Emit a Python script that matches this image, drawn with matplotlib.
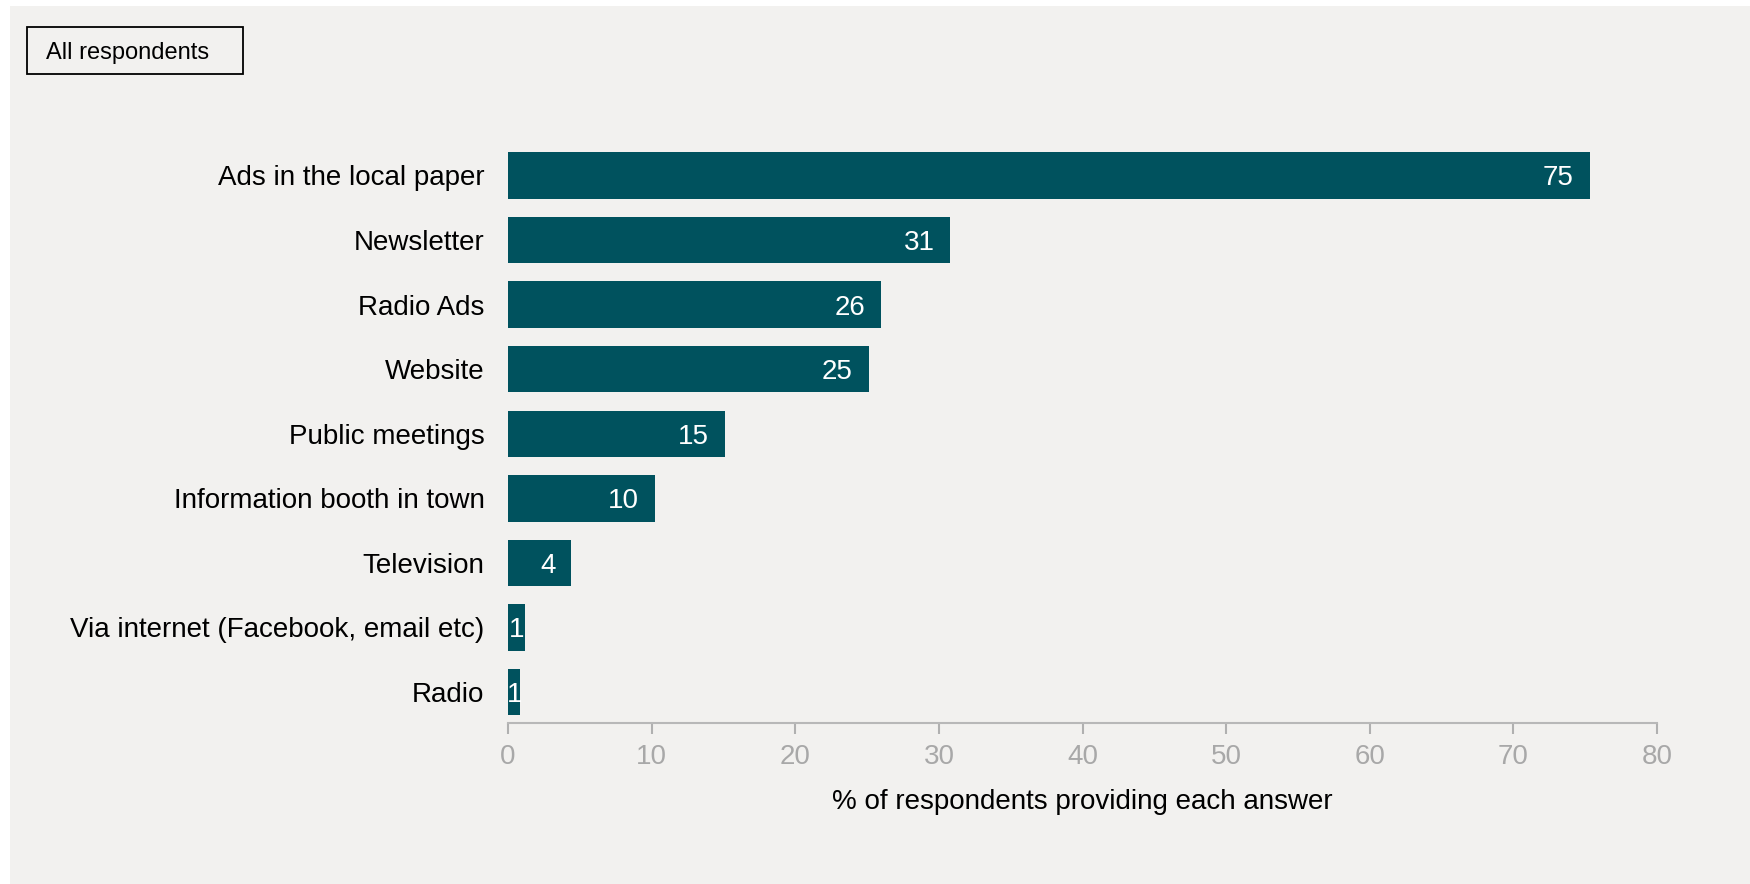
import matplotlib
matplotlib.use("Agg")
import matplotlib.pyplot as plt
from matplotlib.patches import Rectangle

# Survey answers, top to bottom
categories = ["Ads in the local paper", "Newsletter", "Radio Ads", "Website",
              "Public meetings", "Information booth in town", "Television",
              "Via internet (Facebook, email etc)", "Radio"]
values = [75.3, 30.8, 26.0, 25.1, 15.1, 10.2, 4.4, 1.2, 0.85]
labels = ["75", "31", "26", "25", "15", "10", "4", "1", "1"]
ticks = [0, 10, 20, 30, 40, 50, 60, 70, 80]

bar_color = "#00525e"
panel_color = "#f2f1ef"
fs = 20

plt.rcParams['font.family'] = ['Liberation Sans', 'DejaVu Sans']

W, H = 1750, 884
fig = plt.figure(figsize=(W / 100, H / 100), dpi=100)
fig.patch.set_facecolor("white")

# grey panel behind everything
fig.patches.append(Rectangle((10 / W, 0), 1 - 10 / W, 1 - 6 / H,
                             transform=fig.transFigure, facecolor=panel_color,
                             edgecolor="none", zorder=-10))

ax = fig.add_axes([0.2903, 0.1821, 0.6566, 0.6559])
ax.set_facecolor("none")

y = list(range(len(categories)))
ax.barh(y, values, height=0.72, color=bar_color)

for yi, v, lab in zip(y, values, labels):
    if v > 3:
        ax.text(v - 1.1, yi, lab, ha="right", va="center_baseline", color="white", fontsize=fs)
    else:
        ax.text(v / 2, yi, lab, ha="center", va="center_baseline", color="white", fontsize=fs)

ax.set_ylim(8.48, -0.5)
ax.set_xlim(0, 80)
ax.set_yticks(y)
ax.set_yticklabels(categories, fontsize=fs, va="center_baseline")
ax.tick_params(axis="y", length=0, pad=17)
ax.set_xticks(ticks)
ax.tick_params(axis="x", colors="#b0b0b0", labelcolor="#a8a8a8", labelsize=fs,
               length=8, width=1.5, direction="out", pad=7)

for s in ["top", "right", "left"]:
    ax.spines[s].set_visible(False)
ax.spines["bottom"].set_color("#b8b8b8")
ax.spines["bottom"].set_linewidth(1.5)

ax.set_xlabel("% of respondents providing each answer", fontsize=fs, labelpad=14)

# selector box at top left
fig.patches.append(Rectangle((27 / W, 1 - 74 / H), 216 / W, 47 / H,
                             transform=fig.transFigure, facecolor="none",
                             edgecolor="black", linewidth=1.3, zorder=5))
fig.text(46 / W, 1 - 51 / H, "All respondents", fontsize=17, va="center_baseline", ha="left")

fig.savefig("out.png", dpi=100, facecolor=fig.get_facecolor())
